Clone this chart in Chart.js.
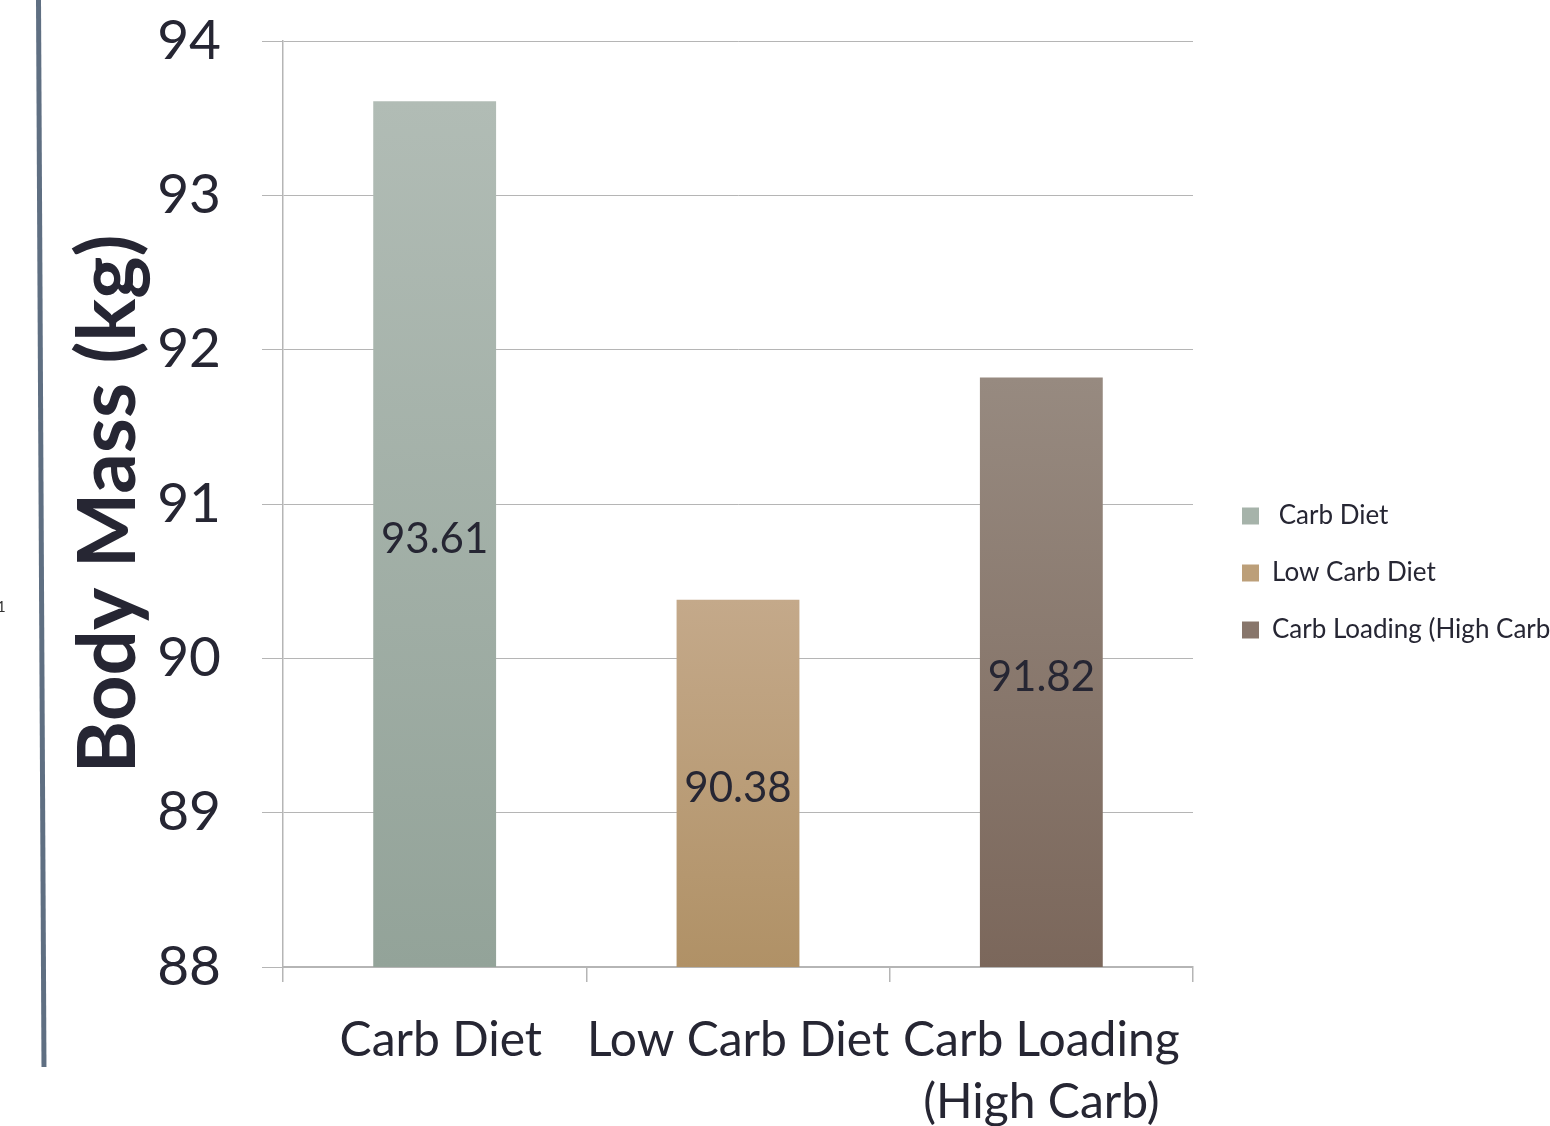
<!DOCTYPE html>
<html>
<head>
<meta charset="utf-8">
<title>Body Mass by Diet</title>
<script src="https://cdn.jsdelivr.net/npm/chart.js@4.4.1/dist/chart.umd.min.js"></script>
<style>
  html, body { margin: 0; padding: 0; background: #ffffff; overflow: hidden; }
  #wrap { position: relative; width: 1550px; height: 1126px; }
  canvas { display: block; }
</style>
</head>
<body>
<div id="wrap"><canvas id="chart" width="1550" height="1126"></canvas></div>
<script>
// Diet groups and measured body mass (kg)
const categories = [' Carb Diet', 'Low Carb Diet', 'Carb Loading (High Carb)'];
const tickLabels = [' Carb Diet', 'Low Carb Diet', ['Carb Loading', '(High Carb)']];
const bodyMass = [93.61, 90.38, 91.82];
const yTicks = [88, 89, 90, 91, 92, 93, 94];

// Bar shading: lighter at the top, darker at the base
const topColors = ['#b1bcb5', '#c4a98a', '#978a80'];
const bottomColors = ['#93a399', '#b09166', '#7b675b'];
const legendColors = ['#a6b3aa', '#bc9f79', '#88766b'];

const FONT = 'Lato, "Open Sans", sans-serif';
const TEXT = '#262633';
const GRID = '#b5b5b5';

function barFill(ctx) {
  const chart = ctx.chart;
  const i = ctx.dataIndex;
  if (!chart.chartArea || i === undefined) return topColors[i || 0];
  const y = chart.scales.y;
  const top = y.getPixelForValue(bodyMass[i]);
  const base = y.getPixelForValue(y.min);
  const g = chart.ctx.createLinearGradient(0, top, 0, base);
  g.addColorStop(0, topColors[i]);
  g.addColorStop(1, bottomColors[i]);
  return g;
}

// Values written in the middle of each bar
const valueLabels = {
  id: 'valueLabels',
  afterDraw(chart) {
    const ctx = chart.ctx;
    const xs = chart.scales.x;
    const ys = chart.scales.y;
    ctx.save();
    ctx.font = '42px ' + FONT;
    ctx.fillStyle = TEXT;
    ctx.textAlign = 'center';
    ctx.textBaseline = 'middle';
    bodyMass.forEach((v, i) => {
      const x = xs.getPixelForValue(i);
      const top = ys.getPixelForValue(v);
      const base = ys.getPixelForValue(ys.min);
      ctx.fillText(v.toFixed(2), x, (top + base) / 2 + 5);
    });
    ctx.restore();
  }
};

// Slide accent rule on the left edge and the page marker beside it
const slideFrame = {
  id: 'slideFrame',
  beforeDraw(chart) {
    const ctx = chart.ctx;
    ctx.save();
    ctx.strokeStyle = '#5f6f82';
    ctx.lineWidth = 5;
    ctx.beginPath();
    ctx.moveTo(38.5, 0);
    ctx.lineTo(44, 1067);
    ctx.stroke();
    ctx.font = '15px ' + FONT;
    ctx.fillStyle = '#333333';
    ctx.textAlign = 'left';
    ctx.textBaseline = 'middle';
    ctx.fillText('1', -3, 607);
    ctx.restore();
  }
};

function start() {
  new Chart(document.getElementById('chart'), {
    type: 'bar',
    data: {
      labels: tickLabels,
      datasets: [{
        label: 'Body Mass (kg)',
        data: bodyMass,
        backgroundColor: barFill,
        borderWidth: 0,
        categoryPercentage: 1.0,
        barPercentage: 0.405
      }]
    },
    options: {
      responsive: false,
      animation: false,
      events: [],
      layout: { padding: { top: 20, right: 0, bottom: 0, left: 0 } },
      plugins: {
        tooltip: { enabled: false },
        legend: {
          display: true,
          position: 'right',
          align: 'center',
          maxWidth: 339,
          labels: {
            color: TEXT,
            font: { family: FONT, size: 26 },
            boxWidth: 17,
            boxHeight: 17,
            padding: 31,
            generateLabels: () => categories.map((name, i) => ({
              text: name,
              fillStyle: legendColors[i],
              strokeStyle: legendColors[i],
              lineWidth: 0,
              hidden: false,
              index: i,
              fontColor: TEXT
            }))
          }
        }
      },
      scales: {
        x: {
          offset: true,
          grid: {
            offset: true,
            drawOnChartArea: false,
            drawTicks: true,
            tickLength: 15,
            color: GRID,
            lineWidth: 1.5
          },
          border: { display: true, color: GRID, width: 2 },
          ticks: {
            color: TEXT,
            font: { family: FONT, size: 48, lineHeight: 1.28 },
            padding: 28,
            maxRotation: 0,
            minRotation: 0,
            autoSkip: false
          },
          afterFit(scale) { scale.height = 159; }
        },
        y: {
          min: yTicks[0],
          max: yTicks[yTicks.length - 1],
          afterBuildTicks(scale) { scale.ticks = yTicks.map(v => ({ value: v })); },
          grid: {
            color: GRID,
            lineWidth: 1,
            drawTicks: true,
            tickLength: 21
          },
          border: { display: true, color: GRID, width: 1.5 },
          ticks: {
            color: TEXT,
            font: { family: FONT, size: 55, lineHeight: 1.2 },
            padding: 41,
            callback: v => String(v)
          },
          title: {
            display: true,
            text: 'Body Mass (kg)',
            color: TEXT,
            font: { family: FONT, size: 80, weight: 'bold', lineHeight: 1.2 },
            padding: { top: 61, bottom: 0 }
          },
          afterFit(scale) {
            scale.width = 283;
            scale.paddingTop = 41;
            scale.paddingBottom = 0;
          }
        },
        gap: {
          type: 'linear',
          position: 'right',
          display: true,
          grid: { display: false, drawTicks: false },
          border: { display: false },
          ticks: { display: false },
          afterFit(scale) { scale.width = 18; }
        }
      }
    },
    plugins: [slideFrame, valueLabels]
  });
}

Promise.all([
  document.fonts.load('26px Lato'),
  document.fonts.load('bold 78px Lato')
]).then(start, start);
</script>
</body>
</html>
